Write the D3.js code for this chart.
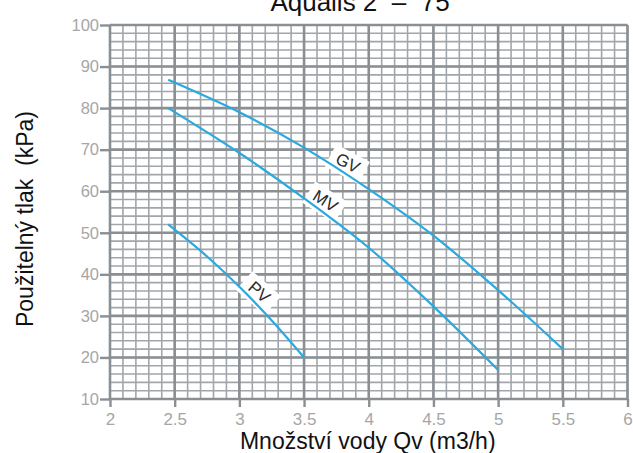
<!DOCTYPE html>
<html>
<head>
<meta charset="utf-8">
<script src="https://cdn.jsdelivr.net/npm/d3@7"></script>
<style>
  body { margin: 0; background: #fff; }
  svg { display: block; font-family: "Liberation Sans", Arial, sans-serif; }
</style>
</head>
<body>
<div id="chart"></div>
<script>
const title = "Aqualis 2  –  75";
const xTitle = "Množství vody Qv (m3/h)";
const yTitle = "Použitelný tlak  (kPa)";

const xTicks = [2, 2.5, 3, 3.5, 4, 4.5, 5, 5.5, 6];
const xTickLabels = ["2", "2.5", "3", "3.5", "4", "4.5", "5", "5.5", "6"];
const yTicks = [10, 20, 30, 40, 50, 60, 70, 80, 90, 100];

const seriesNames = ["GV", "MV", "PV"];
const gvFlow = [2.45, 3, 3.5, 4, 4.5, 5, 5.5];
const gvPressure = [86.8, 79, 70.5, 60.5, 49.3, 36.2, 22];
const mvFlow = [2.45, 3, 3.5, 4, 4.5, 5];
const mvPressure = [80, 69.2, 58.3, 46.4, 32.3, 17];
const pvFlow = [2.45, 2.75, 3, 3.25, 3.5];
const pvPressure = [52, 44.3, 37, 28.9, 20];
const labelFlow = [3.8, 3.62, 3.1];

const flows = [gvFlow, mvFlow, pvFlow];
const pressures = [gvPressure, mvPressure, pvPressure];
const series = seriesNames.map((name, i) => ({
    name: name,
    points: flows[i].map((f, j) => ({q: f, p: pressures[i][j]})),
    labelQ: labelFlow[i]
}));

const W = 633, H = 453;
const margin = {top: 25, right: 5.5, bottom: 54, left: 110};
const width = W - margin.left - margin.right;
const height = H - margin.top - margin.bottom;

const svg = d3.select("#chart").append("svg")
    .attr("width", W)
    .attr("height", H);

const g = svg.append("g")
    .attr("transform", `translate(${margin.left},${margin.top})`);

const x = d3.scaleLinear().domain([2, 6]).range([0, width]);
const y = d3.scaleLinear().domain([10, 100]).range([height, 0]);

// minor grid
g.append("g").selectAll("line")
    .data(x.ticks(40))
    .enter().append("line")
    .attr("x1", d => x(d)).attr("x2", d => x(d))
    .attr("y1", 0).attr("y2", height)
    .attr("stroke", "#a2a6aa").attr("stroke-width", 1.6);

g.append("g").selectAll("line")
    .data(y.ticks(45))
    .enter().append("line")
    .attr("y1", d => y(d)).attr("y2", d => y(d))
    .attr("x1", 0).attr("x2", width)
    .attr("stroke", "#a2a6aa").attr("stroke-width", 1.6);

// major grid
g.append("g").selectAll("line")
    .data(xTicks)
    .enter().append("line")
    .attr("x1", d => x(d)).attr("x2", d => x(d))
    .attr("y1", 0).attr("y2", height)
    .attr("stroke", "#8a8f94").attr("stroke-width", 2.6);

g.append("g").selectAll("line")
    .data(yTicks)
    .enter().append("line")
    .attr("y1", d => y(d)).attr("y2", d => y(d))
    .attr("x1", 0).attr("x2", width)
    .attr("stroke", "#8a8f94").attr("stroke-width", 2.6);

// axes
const xAxis = g.append("g")
    .attr("transform", `translate(0,${height})`)
    .call(d3.axisBottom(x).tickValues(xTicks).tickSize(8).tickPadding(6)
        .tickFormat((d, i) => xTickLabels[i]));

const yAxis = g.append("g")
    .call(d3.axisLeft(y).tickValues(yTicks).tickSize(10).tickPadding(1));

[xAxis, yAxis].forEach(a => {
    a.select(".domain").remove();
    a.selectAll(".tick line").attr("stroke", "#8a8f94").attr("stroke-width", 2.4);
    a.selectAll(".tick text")
        .attr("fill", "#a6a6a6")
        .style("font-family", "\"Liberation Sans\", Arial, sans-serif");
});
xAxis.selectAll(".tick text").style("font-size", "17px");
yAxis.selectAll(".tick text").style("font-size", "16.5px");

// curves
const line = d3.line()
    .x(d => x(d.q))
    .y(d => y(d.p))
    .curve(d3.curveCatmullRom);

function interp(pts, q) {
    for (let i = 0; i < pts.length - 1; i++) {
        if (q >= pts[i].q && q <= pts[i + 1].q) {
            const t = (q - pts[i].q) / (pts[i + 1].q - pts[i].q);
            return pts[i].p + t * (pts[i + 1].p - pts[i].p);
        }
    }
    return pts[pts.length - 1].p;
}

// curve labels (white boxes under the text)
const labels = g.append("g");
series.forEach(s => {
    const px = x(s.labelQ);
    const py = y(interp(s.points, s.labelQ));
    const dx = x(s.labelQ + 0.05) - x(s.labelQ - 0.05);
    const dy = y(interp(s.points, s.labelQ + 0.05)) - y(interp(s.points, s.labelQ - 0.05));
    const ang = Math.atan2(dy, dx) * 180 / Math.PI - 5;
    const lg = labels.append("g")
        .attr("transform", `translate(${px},${py}) rotate(${ang})`);
    lg.append("rect")
        .attr("x", -19).attr("y", -22)
        .attr("width", 38).attr("height", 25)
        .attr("fill", "#fff");
    lg.append("text")
        .attr("x", 0).attr("y", -5)
        .attr("text-anchor", "middle")
        .attr("fill", "#2b2b2b")
        .style("font-size", "17px")
        .text(s.name);
});

g.append("g").selectAll("path")
    .data(series)
    .enter().append("path")
    .attr("d", d => line(d.points))
    .attr("fill", "none")
    .attr("stroke", "#29a9df")
    .attr("stroke-width", 2.2);

// titles
svg.append("text")
    .attr("x", 360).attr("y", 11)
    .attr("text-anchor", "middle")
    .style("font-size", "26px")
    .style("white-space", "pre")
    .attr("fill", "#111")
    .text(title);

svg.append("text")
    .attr("x", margin.left + width / 2 - 1)
    .attr("y", 449)
    .attr("text-anchor", "middle")
    .style("font-size", "23px")
    .attr("fill", "#111")
    .text(xTitle);

svg.append("text")
    .attr("transform", `translate(33,${margin.top + height / 2 + 7}) rotate(-90)`)
    .attr("text-anchor", "middle")
    .style("font-size", "23px")
    .style("white-space", "pre")
    .attr("fill", "#111")
    .text(yTitle);
</script>
</body>
</html>
